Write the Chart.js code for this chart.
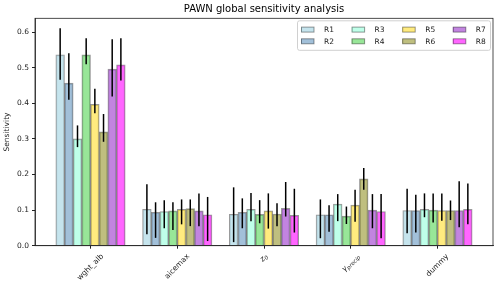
<!DOCTYPE html>
<html>
<head>
<meta charset="utf-8">
<script src="https://cdn.jsdelivr.net/npm/chart.js@4"></script>
<style>
html, body { margin: 0; padding: 0; background: #fff; }
</style>
</head>
<body>
<canvas id="chart" width="500" height="288"></canvas>
<script>
// categories (base text + math subscript)
const categories = ['wght_alb', 'aicemax', 'z', 'γ', 'dummy'];
const categorySubs = ['', '', '0', 'precip', ''];
const yTicks = [0.0, 0.1, 0.2, 0.3, 0.4, 0.5, 0.6];
const seriesNames = ['R1', 'R2', 'R3', 'R4', 'R5', 'R6', 'R7', 'R8'];

// sensitivity per series, with lower / upper error bounds
const r1 = [0.536, 0.102, 0.088, 0.087, 0.099];
const r1Lo = [0.466, 0.032, 0.010, 0.021, 0.035];
const r1Hi = [0.611, 0.173, 0.164, 0.130, 0.160];
const r2 = [0.457, 0.094, 0.094, 0.087, 0.099];
const r2Lo = [0.410, 0.022, 0.049, 0.039, 0.037];
const r2Hi = [0.541, 0.122, 0.133, 0.114, 0.143];
const r3 = [0.300, 0.096, 0.102, 0.117, 0.102];
const r3Lo = [0.277, 0.049, 0.069, 0.069, 0.080];
const r3Hi = [0.338, 0.128, 0.148, 0.145, 0.147];
const r4 = [0.536, 0.098, 0.088, 0.083, 0.100];
const r4Lo = [0.510, 0.044, 0.063, 0.061, 0.065];
const r4Hi = [0.583, 0.122, 0.128, 0.110, 0.147];
const r5 = [0.397, 0.102, 0.098, 0.114, 0.099];
const r5Lo = [0.372, 0.060, 0.048, 0.067, 0.070];
const r5Hi = [0.441, 0.130, 0.147, 0.157, 0.147];
const r6 = [0.320, 0.104, 0.089, 0.188, 0.099];
const r6Lo = [0.292, 0.055, 0.055, 0.157, 0.072];
const r6Hi = [0.370, 0.130, 0.119, 0.218, 0.127];
const r7 = [0.496, 0.098, 0.105, 0.100, 0.099];
const r7Lo = [0.419, 0.055, 0.082, 0.049, 0.052];
const r7Hi = [0.580, 0.147, 0.179, 0.145, 0.181];
const r8 = [0.508, 0.087, 0.085, 0.096, 0.102];
const r8Lo = [0.464, 0.013, 0.037, 0.021, 0.060];
const r8Hi = [0.583, 0.137, 0.160, 0.145, 0.175];

const seriesValues = [r1, r2, r3, r4, r5, r6, r7, r8];
const seriesLo = [r1Lo, r2Lo, r3Lo, r4Lo, r5Lo, r6Lo, r7Lo, r8Lo];
const seriesHi = [r1Hi, r2Hi, r3Hi, r4Hi, r5Hi, r6Hi, r7Hi, r8Hi];

const colors = [
    'rgba(173,216,230,0.7)',
    'rgba(70,130,180,0.5)',
    'rgba(127,255,212,0.5)',
    'rgba(50,205,50,0.5)',
    'rgba(255,215,0,0.5)',
    'rgba(128,128,0,0.5)',
    'rgba(153,50,204,0.6)',
    'rgba(255,0,255,0.6)'
];
const edge = 'rgba(0,0,0,0.4)';
const FONT = '"DejaVu Sans", sans-serif';
const barWidth = 0.1;

const datasets = seriesNames.map((name, j) => ({
    label: name,
    data: seriesValues[j].map((v, i) => ({ x: i + (j - 3.5) * barWidth, y: v })),
    backgroundColor: colors[j],
    borderColor: edge,
    borderWidth: 1,
    grouped: false,
    categoryPercentage: 1,
    barPercentage: 1
}));

// error bars, frame, title, legend and rotated x labels
const decor = {
    id: 'decor',
    afterDatasetsDraw(chart) {
        const ctx = chart.ctx, y = chart.scales.y;
        ctx.save();
        ctx.strokeStyle = '#000';
        ctx.lineWidth = 1.5;
        chart.data.datasets.forEach((ds, j) => {
            chart.getDatasetMeta(j).data.forEach((bar, i) => {
                ctx.beginPath();
                ctx.moveTo(bar.x, y.getPixelForValue(seriesLo[j][i]));
                ctx.lineTo(bar.x, y.getPixelForValue(seriesHi[j][i]));
                ctx.stroke();
            });
        });
        ctx.restore();
    },
    afterDraw(chart) {
        const ctx = chart.ctx, ca = chart.chartArea, x = chart.scales.x;
        ctx.save();
        // frame
        ctx.strokeStyle = '#222';
        ctx.lineWidth = 0.8;
        ctx.strokeRect(ca.left, ca.top, ca.right - ca.left, ca.bottom - ca.top);

        // title
        ctx.fillStyle = '#000';
        ctx.font = '10px ' + FONT;
        ctx.textAlign = 'center';
        ctx.textBaseline = 'middle';
        ctx.fillText('PAWN global sensitivity analysis', (ca.left + ca.right) / 2, 9.5);

        // legend (column-major, 4 columns x 2 rows)
        const bw = 193, bh = 29.5;
        const bx = ca.right - 3 - bw, by = ca.top + 2;
        ctx.fillStyle = 'rgba(255,255,255,0.8)';
        ctx.strokeStyle = '#d0d0d0';
        ctx.lineWidth = 1;
        ctx.beginPath();
        ctx.roundRect(bx + 0.5, by + 0.5, bw, bh, 2);
        ctx.fill();
        ctx.stroke();
        ctx.font = '7.5px ' + FONT;
        ctx.textAlign = 'left';
        seriesNames.forEach((name, j) => {
            const col = Math.floor(j / 2), row = j % 2;
            const cx = bx + 4 + col * 50.6;
            const cy = by + 9.3 + row * 11.7;
            ctx.fillStyle = colors[j];
            ctx.fillRect(cx, cy - 2.5, 13, 5);
            ctx.strokeStyle = edge;
            ctx.strokeRect(cx + 0.5, cy - 2.5, 12.5, 5);
            ctx.fillStyle = '#222';
            ctx.fillText(name, cx + 23, cy + 0.5);
        });

        // x tick labels, rotated 45 degrees, with math subscripts
        categories.forEach((base, i) => {
            const sub = categorySubs[i];
            const math = sub !== '';
            const fBase = (math ? 'italic ' : '') + '7.5px ' + FONT;
            const fSub = 'italic 5.5px ' + FONT;
            ctx.font = fBase;
            const wb = ctx.measureText(base).width;
            ctx.font = fSub;
            const ws = sub ? ctx.measureText(sub).width : 0;
            const w = wb + ws, h = 7.5;
            const px = x.getPixelForValue(i);
            const py = ca.bottom + 7 + (w + h) / (2 * Math.SQRT2);
            ctx.save();
            ctx.translate(px, py);
            ctx.rotate(-Math.PI / 4);
            ctx.fillStyle = '#222';
            ctx.textBaseline = 'middle';
            ctx.textAlign = 'left';
            ctx.font = fBase;
            ctx.fillText(base, -w / 2, 0);
            if (sub) {
                ctx.font = fSub;
                ctx.fillText(sub, -w / 2 + wb, 2);
            }
            ctx.restore();
        });
        ctx.restore();
    }
};

new Chart(document.getElementById('chart'), {
    type: 'bar',
    data: { datasets: datasets },
    plugins: [decor],
    options: {
        responsive: false,
        animation: false,
        devicePixelRatio: 1,
        layout: { padding: { top: 18.3, right: 7, left: 0, bottom: 0 } },
        plugins: {
            legend: { display: false },
            tooltip: { enabled: false }
        },
        scales: {
            x: {
                type: 'linear',
                min: -0.64,
                max: 4.64,
                offset: false,
                ticks: { stepSize: 1, display: false },
                afterBuildTicks: s => { s.ticks = [0, 1, 2, 3, 4].map(v => ({ value: v })); },
                afterFit: s => { s.height = 42.3; },
                grid: { offset: false, drawOnChartArea: false, drawTicks: true, tickLength: 3, color: '#222' },
                border: { display: true, color: '#222', width: 0.8 }
            },
            y: {
                min: 0,
                max: 0.639,
                ticks: {
                    stepSize: 0.1,
                    padding: 3,
                    color: '#222',
                    font: { family: FONT, size: 7.5 },
                    callback: v => v.toFixed(1)
                },
                afterBuildTicks: s => { s.ticks = yTicks.map(v => ({ value: v })); },
                afterFit: s => { s.width = 35; },
                grid: { drawOnChartArea: false, drawTicks: true, tickLength: 3, color: '#222' },
                border: { display: true, color: '#222', width: 0.8 },
                title: {
                    display: true,
                    text: 'Sensitivity',
                    color: '#222',
                    font: { family: FONT, size: 7.5 },
                    padding: { top: 3, bottom: 2 }
                }
            }
        }
    }
});
</script>
</body>
</html>
